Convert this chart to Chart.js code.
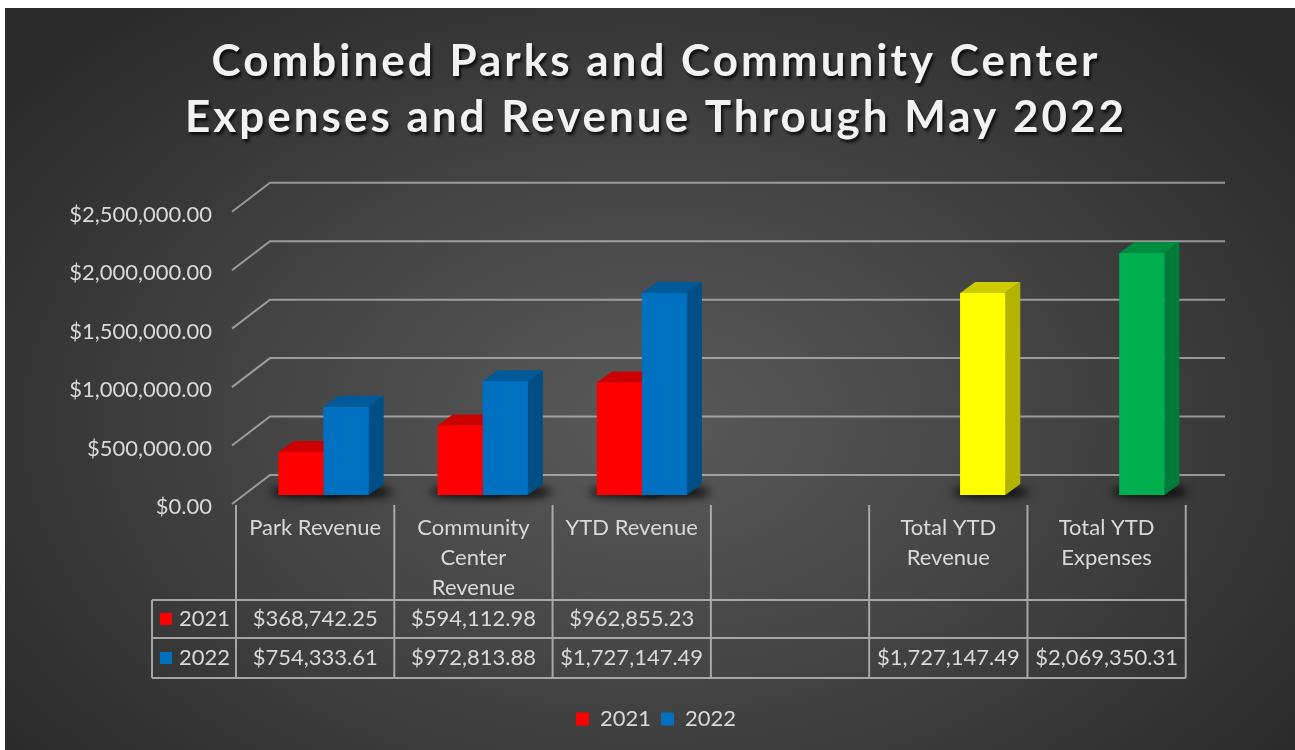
<!DOCTYPE html>
<html>
<head>
<meta charset="utf-8">
<title>Combined Parks and Community Center</title>
<script src="https://cdn.jsdelivr.net/npm/chart.js@4.4.1/dist/chart.umd.min.js"></script>
<style>
  html, body { margin: 0; background: #fff; }
  #wrap {
    position: absolute; left: 5px; top: 8px; width: 1290px; height: 742px;
    background: radial-gradient(ellipse 62% 72% at 50% 56%, #5a5a5a 0%, #474747 42%, #2b2b2b 100%);
  }
</style>
</head>
<body>
<div id="wrap"><canvas id="myChart"></canvas></div>
<script>
const categories = ['Park Revenue', 'Community Center Revenue', 'YTD Revenue', '', 'Total YTD Revenue', 'Total YTD Expenses'];
const seriesNames = ['2021', '2022'];
const values2021 = [368742.25, 594112.98, 962855.23, null, null, null];
const values2022 = [754333.61, 972813.88, 1727147.49, null, 1727147.49, 2069350.31];
const yTicks = [0, 500000, 1000000, 1500000, 2000000, 2500000];

const colors2021 = '#FF0000';
const colors2022 = ['#0070C0', '#0070C0', '#0070C0', '#0070C0', '#FFFF00', '#00B050'];
const textColor = '#d9d9d9';
const lineColor = 'rgba(210,210,210,0.62)';

const money = v => '$' + v.toLocaleString('en-US', { minimumFractionDigits: 2, maximumFractionDigits: 2 });

function shade(hex, f) {
  const n = parseInt(hex.slice(1), 16);
  const r = Math.round(((n >> 16) & 255) * f), g = Math.round(((n >> 8) & 255) * f), b = Math.round((n & 255) * f);
  return `rgb(${r},${g},${b})`;
}

// depth of the fake 3D box
const DX = 15, DY = -11;

function visibleBars(chart) {
  const bars = [];
  chart.data.datasets.forEach((ds, di) => {
    chart.getDatasetMeta(di).data.forEach((el, i) => {
      if (ds.data[i] == null) return;
      const c = Array.isArray(ds.backgroundColor) ? ds.backgroundColor[i] : ds.backgroundColor;
      bars.push({ el, color: c });
    });
  });
  return bars.sort((p, q) => p.el.x - q.el.x);
}

// back wall gridlines + floor shadows
const wallPlugin = {
  id: 'wall',
  beforeDatasetsDraw(chart) {
    const { ctx, chartArea: a, scales: { y } } = chart;
    ctx.save();
    ctx.strokeStyle = lineColor;
    ctx.lineWidth = 2;
    y.ticks.forEach(t => {
      const py = y.getPixelForValue(t.value);
      ctx.beginPath();
      ctx.moveTo(a.left - 12, py + 9);
      ctx.lineTo(a.left + 26, py - 20);
      ctx.lineTo(a.right + 26, py - 20);
      ctx.stroke();
    });
    ctx.filter = 'blur(5px)';
    ctx.fillStyle = 'rgba(0,0,0,0.85)';
    visibleBars(chart).forEach(b => {
      const { x, base, width } = b.el;
      ctx.beginPath();
      ctx.ellipse(x + 8, base - 3, width / 2 + 16, 6, 0, 0, Math.PI * 2);
      ctx.fill();
    });
    ctx.restore();
  }
};

// top and side faces, painted left to right so neighbours overlap properly
const boxPlugin = {
  id: 'box3d',
  afterDatasetsDraw(chart) {
    const ctx = chart.ctx;
    ctx.save();
    visibleBars(chart).forEach(b => {
      const { x, y, base, width } = b.el;
      const l = x - width / 2, r = x + width / 2;
      ctx.fillStyle = shade(b.color, 0.8);
      ctx.beginPath();
      ctx.moveTo(l, y); ctx.lineTo(r, y); ctx.lineTo(r + DX, y + DY); ctx.lineTo(l + DX, y + DY);
      ctx.closePath(); ctx.fill();
      ctx.fillStyle = shade(b.color, 0.7);
      ctx.beginPath();
      ctx.moveTo(r, y); ctx.lineTo(r + DX, y + DY); ctx.lineTo(r + DX, base + DY); ctx.lineTo(r, base);
      ctx.closePath(); ctx.fill();
      ctx.fillStyle = b.color;
      ctx.fillRect(l, y, width, base - y);
    });
    ctx.restore();
  }
};

function wrapWords(ctx, text, maxW) {
  const words = text.split(' ');
  const lines = [];
  let cur = '';
  words.forEach(w => {
    const test = cur ? cur + ' ' + w : w;
    if (cur && ctx.measureText(test).width > maxW) { lines.push(cur); cur = w; } else cur = test;
  });
  if (cur) lines.push(cur);
  return lines;
}

// data table under the floor
const tablePlugin = {
  id: 'dataTable',
  afterDraw(chart) {
    const { ctx, chartArea: a } = chart;
    const n = categories.length;
    const left = a.left - 8;
    const right = left + (a.right - a.left) * 0.9945;
    const colW = (right - left) / n;
    const keyLeft = left - 84;
    const top = a.bottom + 10, row1 = a.bottom + 105, row2 = a.bottom + 143, bottom = a.bottom + 183;

    ctx.save();
    ctx.strokeStyle = 'rgba(200,200,200,0.75)';
    ctx.lineWidth = 2;
    ctx.beginPath();
    for (let i = 0; i <= n; i++) {
      const x = left + i * colW;
      ctx.moveTo(x, top); ctx.lineTo(x, bottom);
    }
    ctx.moveTo(keyLeft, row1); ctx.lineTo(keyLeft, bottom);
    [row1, row2, bottom].forEach(yy => { ctx.moveTo(keyLeft, yy); ctx.lineTo(right, yy); });
    ctx.stroke();

    ctx.font = '22px Lato';
    ctx.fillStyle = textColor;
    ctx.textAlign = 'center';
    ctx.textBaseline = 'middle';
    categories.forEach((c, i) => {
      const cx = left + (i + 0.5) * colW;
      wrapWords(ctx, c, colW - 12).forEach((ln, k) => ctx.fillText(ln, cx, top + 23 + k * 30));
    });

    const rows = [[values2021, colors2021], [values2022, colors2022[0]]];
    rows.forEach(([vals, key], r) => {
      const cy = (r === 0 ? (row1 + row2) : (row2 + bottom)) / 2;
      vals.forEach((v, i) => {
        if (v == null) return;
        ctx.fillText(money(v), left + (i + 0.5) * colW, cy);
      });
      ctx.fillStyle = key;
      ctx.fillRect(keyLeft + 8, cy - 6, 12, 12);
      ctx.fillStyle = textColor;
      ctx.textAlign = 'left';
      ctx.fillText(seriesNames[r], keyLeft + 27, cy);
      ctx.textAlign = 'center';
    });
    ctx.restore();
  }
};

// drop shadow and letter spacing for the title text
const titleShadow = {
  id: 'titleShadow',
  afterInit(chart) {
    const tb = chart.titleBlock;
    if (!tb) return;
    const draw = tb.draw.bind(tb);
    tb.draw = function (area) {
      const c = chart.ctx;
      c.save();
      c.letterSpacing = '3px';
      c.shadowColor = 'rgba(0,0,0,0.75)';
      c.shadowOffsetX = 2;
      c.shadowOffsetY = 3;
      c.shadowBlur = 3;
      draw(area);
      c.restore();
    };
  }
};

const ctx = document.getElementById('myChart').getContext('2d');
const myChart = new Chart(ctx, {
  type: 'bar',
  data: {
    labels: categories,
    datasets: [{
      label: seriesNames[0],
      data: values2021,
      backgroundColor: colors2021
    }, {
      label: seriesNames[1],
      data: values2022,
      backgroundColor: colors2022
    }]
  },
  plugins: [titleShadow, wallPlugin, boxPlugin, tablePlugin],
  options: {
    responsive: true,
    maintainAspectRatio: false,
    animation: false,
    layout: { padding: { left: 12, right: 0, top: 0, bottom: 10 } },
    datasets: { bar: { categoryPercentage: 0.566, barPercentage: 1.0 } },
    scales: {
      x: {
        grid: { display: false, drawTicks: false },
        border: { display: false },
        ticks: { display: false },
        afterFit(scale) { scale.height = 203; }
      },
      y: {
        min: 0,
        max: 2500000,
        afterBuildTicks(scale) { scale.ticks = yTicks.map(v => ({ value: v })); },
        grid: { display: false, drawTicks: false },
        border: { display: false },
        ticks: {
          color: textColor,
          font: { family: 'Lato', size: 22 },
          padding: 32,
          labelOffset: 12,
          callback: v => money(v)
        },
        afterFit(scale) { scale.width = 227; }
      },
      // empty strip on the right that leaves room for the wall's depth
      yEdge: {
        position: 'right',
        min: 0,
        max: 1,
        grid: { display: false, drawTicks: false },
        border: { display: false },
        ticks: { display: false },
        afterFit(scale) { scale.width = 96; }
      }
    },
    plugins: {
      title: {
        display: true,
        text: ['Combined Parks and Community Center', 'Expenses and Revenue Through May 2022'],
        color: '#f2f2f2',
        font: { family: 'Lato', size: 44, weight: 'bold', lineHeight: 1.27 },
        padding: { top: 26, bottom: 57 }
      },
      legend: {
        position: 'bottom',
        labels: {
          color: textColor,
          font: { family: 'Lato', size: 22 },
          boxWidth: 13,
          boxHeight: 13,
          padding: 10
        }
      },
      tooltip: { enabled: false }
    }
  }
});
</script>
</body>
</html>
